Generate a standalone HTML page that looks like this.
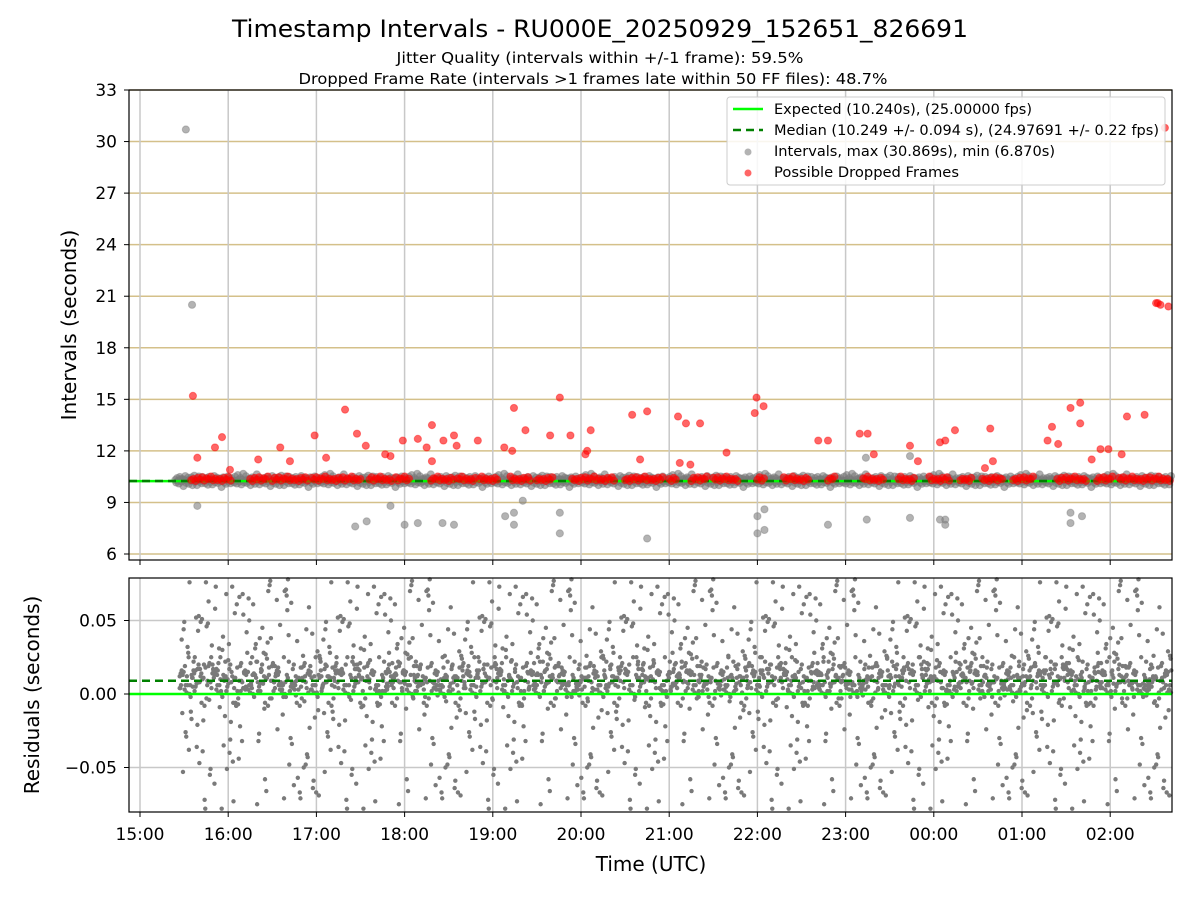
<!DOCTYPE html>
<html><head><meta charset="utf-8"><style>
body{margin:0;background:#fff}
svg text{font-family:"DejaVu Sans","Liberation Sans",sans-serif;fill:#000}
</style></head><body>
<svg id="chart" width="1200" height="900" viewBox="0 0 1200 900" xmlns="http://www.w3.org/2000/svg">
<rect width="1200" height="900" fill="#fff"/>
<text x="600" y="37" font-size="24" text-anchor="middle" textLength="736" lengthAdjust="spacingAndGlyphs">Timestamp Intervals - RU000E_20250929_152651_826691</text>
<text x="600" y="63" font-size="15" text-anchor="middle" textLength="407" lengthAdjust="spacingAndGlyphs">Jitter Quality (intervals within +/-1 frame): 59.5%</text>
<text x="593" y="84" font-size="15" text-anchor="middle" textLength="589" lengthAdjust="spacingAndGlyphs">Dropped Frame Rate (intervals &gt;1 frames late within 50 FF files): 48.7%</text>
<g id="topG"></g>
<g id="botG"></g>
<text transform="translate(76,325) rotate(-90)" font-size="20" text-anchor="middle">Intervals (seconds)</text>
<text transform="translate(39,695) rotate(-90)" font-size="20" text-anchor="middle">Residuals (seconds)</text>
<text x="651" y="871" font-size="20" text-anchor="middle">Time (UTC)</text>
<g>
<rect x="727" y="97" width="438" height="88" rx="3" fill="#fff" fill-opacity="0.85" stroke="#ccc"/>
<line x1="733" y1="109" x2="763" y2="109" stroke="#00ff00" stroke-width="2.5"/>
<text x="774" y="114" font-size="14" textLength="258" lengthAdjust="spacingAndGlyphs">Expected (10.240s), (25.00000 fps)</text>
<line x1="733" y1="130" x2="763" y2="130" stroke="#008000" stroke-width="2.5" stroke-dasharray="8,5"/>
<text x="774" y="135" font-size="14" textLength="385" lengthAdjust="spacingAndGlyphs">Median (10.249 +/- 0.094 s), (24.97691 +/- 0.22 fps)</text>
<circle cx="748" cy="152" r="3.5" fill="#808080" fill-opacity="0.6"/>
<text x="774" y="156" font-size="14" textLength="281" lengthAdjust="spacingAndGlyphs">Intervals, max (30.869s), min (6.870s)</text>
<circle cx="748" cy="173" r="3.5" fill="#ff0000" fill-opacity="0.6"/>
<text x="774" y="177" font-size="14" textLength="185" lengthAdjust="spacingAndGlyphs">Possible Dropped Frames</text>
</g>
</svg>
<script>
// ---- data ----
const xTickLabels=["15:00","16:00","17:00","18:00","19:00","20:00","21:00","22:00","23:00","00:00","01:00","02:00"];
const yTickIntervals=[6,9,12,15,18,21,24,27,30,33];
const yTickResiduals=[-0.05,0.00,0.05];
const expectedInterval=10.24;
const medianInterval=10.249;
const medianResidual=0.009;
const grayOutlierHours=[0.52,0.59,0.65,2.44,2.57,2.84,3.0,3.15,3.43,3.56,4.14,4.24,4.24,4.34,4.76,4.76,5.75,7.0,7.0,7.08,7.08,7.8,8.24,8.73,8.73,9.07,9.13,9.13,10.55,10.55,10.68,8.23];
const grayOutlierValues=[30.7,20.5,8.8,7.6,7.9,8.8,7.7,7.8,7.8,7.7,8.2,8.4,7.7,9.1,8.4,7.2,6.9,7.2,8.2,8.6,7.4,7.7,8.0,8.1,11.7,8.0,7.7,8.0,8.4,7.8,8.2,11.6];
const redOutlierHours=[0.60,0.65,0.85,0.93,1.02,1.34,1.59,1.70,1.98,2.11,2.325,2.46,2.56,2.78,2.84,2.98,3.15,3.25,3.31,3.31,3.44,3.56,3.59,3.83,4.13,4.22,4.24,4.37,4.65,4.76,4.88,5.05,5.07,5.11,5.58,5.67,5.75,6.1,6.12,6.19,6.24,6.35,6.65,6.97,6.99,7.07,7.69,7.8,8.16,8.25,8.32,8.73,8.82,9.07,9.13,9.24,9.58,9.64,9.67,10.29,10.34,10.41,10.55,10.66,10.66,10.79,10.89,10.98,11.13,11.19,11.39,11.52,11.54,11.57,11.66,11.62];
const redOutlierValues=[15.2,11.6,12.2,12.8,10.9,11.5,12.2,11.4,12.9,11.6,14.4,13.0,12.3,11.8,11.7,12.6,12.7,12.2,13.5,11.4,12.6,12.9,12.3,12.6,12.2,12.0,14.5,13.2,12.9,15.1,12.9,11.8,12.0,13.2,14.1,11.5,14.3,14.0,11.3,13.6,11.2,13.6,11.9,14.2,15.1,14.6,12.6,12.6,13.0,13.0,11.8,12.3,11.4,12.5,12.6,13.2,11.0,13.3,11.4,12.6,13.4,12.4,14.5,14.8,13.6,11.5,12.1,12.1,11.8,14.0,14.1,20.6,20.6,20.5,20.4,30.8];
const redRunStarts=[0.58,1.25,1.5,1.95,2.6,2.9,3.3,3.6,3.85,4.2,4.5,4.9,5.5,6.0,6.25,6.5,7.0,7.3,7.8,8.2,8.6,8.95,9.3,9.55,9.9,10.4,10.85,11.1];
const redRunEnds=[1.05,1.45,1.9,2.5,2.85,3.05,3.55,3.8,4.05,4.45,4.7,5.4,5.95,6.1,6.45,6.8,7.1,7.6,7.9,8.45,8.8,9.2,9.45,9.8,10.15,10.75,11.05,11.7];
const bandJitter=[0.05,-0.12,0.22,0.01,-0.2,0.31,0.1,-0.05,0.15,-0.27,0.08,0.38,-0.1,0.02,0.25,-0.15,0.12,-0.02,0.19,-0.32,0.06,0.28,-0.08,0.14,-0.22,0.03,0.35,-0.04,0.09,-0.18,0.21,0.0];
const redJitter=[0.05,0.12,0.0,0.18,0.08,0.22,0.02,0.15,0.1,0.26,0.04,0.13];
const residualValues=[0.012,-0.004,0.031,0.005,-0.038,0.055,0.008,0.019,-0.061,0.002,0.044,0.014,-0.022,0.071,0.006,-0.009,0.027,0.011,-0.047,0.003,0.062,0.016,-0.015,0.038,0.001,-0.072,0.021,0.009,0.049,-0.031,0.013,0.004,-0.055,0.034,0.018,0.076,-0.006,0.007,-0.026,0.058,0.015,-0.041,0.025,0.002,0.067,-0.012,0.01,-0.066,0.041,0.017,0.005,-0.034,0.052,0.012,-0.003,0.029,-0.078,0.008,0.036,0.014,-0.019,0.064,0.006,-0.051,0.022,0.011,0.046,-0.008,0.003,-0.029,0.073,0.016,-0.043,0.033,0.009,0.057,-0.017,0.002,0.024,-0.064,0.013,0.042,0.007,-0.036,0.068,0.019,-0.011,0.03,0.004,-0.057,0.051,0.015,-0.024,0.037,0.01,-0.075,0.026,0.006,0.061,-0.014,0.012,-0.046,0.045,0.001,0.02,-0.032,0.078,0.011,-0.007,0.035,-0.059,0.016,0.028,0.004,-0.021,0.054,0.009,-0.069,0.039,0.013,0.003,-0.039,0.065,0.018,-0.013,0.023,0.008,-0.05,0.048,0.014,-0.002,0.032,-0.073,0.007,0.059,0.017,-0.027,0.04,0.005,-0.044,0.07,0.012,0.021,-0.01,-0.062,0.043,0.015,0.002,0.026,-0.035,0.074,0.01,-0.018,0.05,0.006,-0.053,0.034,0.019,-0.005,0.063,0.013,-0.071,0.028,0.004,0.047,-0.023,0.011,0.038,-0.048,0.016,0.066,0.008,-0.016,0.031,-0.058,0.003,0.053,0.014,-0.03,0.024,0.009,0.077,-0.067,0.02,0.006,-0.001,0.044,-0.04,0.012];
const residualCoreValues=[0.004,0.011,0.018,0.001,0.008,0.014,0.022,-0.003,0.006,0.012,0.016,0.002,0.009,0.025,-0.006,0.013,0.005,0.019,0.0,0.01,0.015,0.007,0.021,-0.002,0.011,0.003,0.017,0.008,0.013,-0.008,0.006,0.02];
// ---- scales ----
const X0=129,X1=1172;
const xS=h=>140+h*88.2;
const yTop=v=>554-(v-6)*(464/27);
const yBot=r=>694-r*1470;
const NS="http://www.w3.org/2000/svg";
function mk(parent,tag,attrs){const e=document.createElementNS(NS,tag);for(const k in attrs)e.setAttribute(k,attrs[k]);parent.appendChild(e);return e;}
const topG=document.getElementById('topG'),botG=document.getElementById('botG');
yTickIntervals.forEach(v=>{
 const g=mk(topG,'line',{x1:X0,x2:X1,y1:yTop(v),y2:yTop(v),stroke:'#d4c08a','stroke-width':1.5});
 
 
 const t=mk(topG,'text',{x:117,y:yTop(v)+6,'font-size':17,'text-anchor':'end'});t.textContent=v;
 
 
 mk(topG,'line',{x1:124,x2:X0,y1:yTop(v),y2:yTop(v),stroke:'#000'});
});
xTickLabels.forEach((l,i)=>{
 const x=xS(i);
 const g=mk(topG,'line',{x1:x,x2:x,y1:90,y2:560,stroke:'#c8c8c8','stroke-width':1.5});
 
 
 mk(topG,'line',{x1:x,x2:x,y1:560,y2:565,stroke:'#000'});
 const g2=mk(botG,'line',{x1:x,x2:x,y1:578,y2:812,stroke:'#c8c8c8','stroke-width':1.5});
 
 
 mk(botG,'line',{x1:x,x2:x,y1:812,y2:817,stroke:'#000'});
 const t=mk(botG,'text',{x:x,y:840,'font-size':17,'text-anchor':'middle'});t.textContent=l;
 
 
});
for(let i=0;i<1100;i++){
 const h=0.4+i*(11.3/1100);
 const v=medianInterval+bandJitter[i%bandJitter.length]*(i%3===0?1.1:0.75);
 const c=mk(topG,'circle',{cx:xS(h),cy:yTop(v),r:3.6,fill:'#7a7a7a','fill-opacity':0.6,stroke:'#777','stroke-opacity':0.4});
 
 
}
grayOutlierHours.forEach((h,i)=>{
 const c=mk(topG,'circle',{cx:xS(h),cy:yTop(grayOutlierValues[i]),r:3.6,fill:'#808080','fill-opacity':0.6,stroke:'#777','stroke-opacity':0.4});
 
 
});
mk(topG,'line',{x1:X0,x2:X1,y1:yTop(expectedInterval),y2:yTop(expectedInterval),stroke:'#00ff00','stroke-width':2.5});
mk(topG,'line',{x1:X0,x2:X1,y1:yTop(medianInterval),y2:yTop(medianInterval),stroke:'#008000','stroke-width':2.5,'stroke-dasharray':'8,5'});
redRunStarts.forEach((s,k)=>{
 const e=redRunEnds[k];
 for(let h=s,j=0;h<=e;h+=0.025,j++){
  const c=mk(topG,'circle',{cx:xS(h),cy:yTop(medianInterval+redJitter[(j+k)%redJitter.length]),r:3.6,fill:'#ff0000','fill-opacity':0.6,stroke:'#f00','stroke-opacity':0.4});
  
  
 }
});
redOutlierHours.forEach((h,i)=>{
 const c=mk(topG,'circle',{cx:xS(h),cy:yTop(redOutlierValues[i]),r:3.6,fill:'#ff0000','fill-opacity':0.6,stroke:'#f00','stroke-opacity':0.4});
 
 
});
mk(topG,'rect',{x:X0,y:90,width:X1-X0,height:470,fill:'none',stroke:'#000','stroke-width':1.2});
yTickResiduals.forEach(r=>{
 const g=mk(botG,'line',{x1:X0,x2:X1,y1:yBot(r),y2:yBot(r),stroke:'#c8c8c8','stroke-width':1.5});
 
 
 mk(botG,'line',{x1:124,x2:X0,y1:yBot(r),y2:yBot(r),stroke:'#000'});
 const t=mk(botG,'text',{x:117,y:yBot(r)+6,'font-size':17,'text-anchor':'end'});t.textContent=(r<0?'\u22120.05':r.toFixed(2));
 
 
});
const N=residualValues.length;
for(let p=0;p<8;p++){
 for(let i=0;i<N;i++){
  const h=0.45+(i+p/8)*(11.25/N);
  const r=residualValues[(i*7+p*31)%N];
  if(Math.abs(r)>0.08)continue;
  const c=mk(botG,'circle',{cx:xS(h),cy:yBot(r),r:2.2,fill:'#7a7a7a'});
  
  
 }
}
const M=residualCoreValues.length;
for(let i=0;i<1000;i++){
 const h=0.45+i*(11.25/1000);
 const c=mk(botG,'circle',{cx:xS(h),cy:yBot(residualCoreValues[(i*5)%M]),r:2.2,fill:'#7a7a7a'});
 
 
}
mk(botG,'line',{x1:X0,x2:X1,y1:yBot(0),y2:yBot(0),stroke:'#00ff00','stroke-width':2.5});
mk(botG,'line',{x1:X0,x2:X1,y1:yBot(medianResidual),y2:yBot(medianResidual),stroke:'#008000','stroke-width':2.5,'stroke-dasharray':'8,5'});
mk(botG,'rect',{x:X0,y:578,width:X1-X0,height:234,fill:'none',stroke:'#000','stroke-width':1.2});
</script>
</body></html>
